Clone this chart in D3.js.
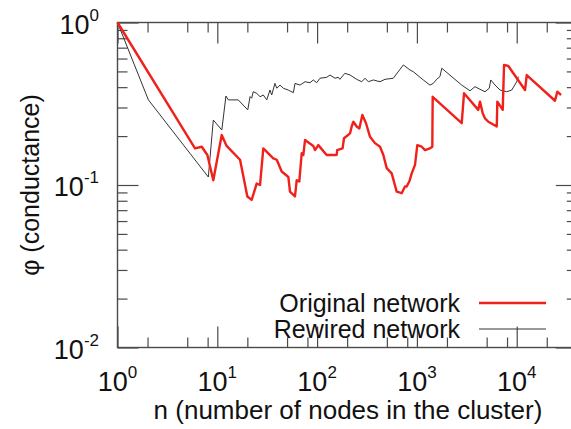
<!DOCTYPE html>
<html>
<head>
<meta charset="utf-8">
<script src="https://cdn.jsdelivr.net/npm/d3@7"></script>
<style>
  html, body { margin: 0; padding: 0; background: #fff; }
  svg { display: block; font-family: "Liberation Sans", Arial, sans-serif; }
</style>
</head>
<body>
<svg id="chart" width="571" height="429"></svg>
<script>
// Cluster size n versus conductance phi, original vs rewired network
const originalN = [1, 5.98, 6.98, 7.95, 9.12, 11.07, 12.4, 16.9, 20, 22.1, 24.8, 26.8, 28.9,
  36.4, 39.4, 44.2, 51.5, 53.5, 60, 62.5, 66.3, 70.1, 72.8, 75.7, 91.6, 95.3, 102.8, 124.7,
  157, 159, 180, 186, 214, 222, 231, 249, 265, 284, 309, 339, 380, 427, 461, 498, 559, 627,
  704, 759, 790, 839, 887, 957, 1009, 1117, 1206, 1352, 1427, 1439, 2812, 2966, 4121, 4285,
  4563, 4811, 5196, 6310, 6397, 7244, 7464, 8240, 12110, 12600, 24200, 25500, 27800];
const originalPhi = [1, 0.168, 0.172, 0.153, 0.107, 0.203, 0.174, 0.143, 0.085, 0.081, 0.102, 0.1, 0.168,
  0.146, 0.143, 0.121, 0.112, 0.091, 0.085, 0.107, 0.105, 0.157, 0.153, 0.189, 0.174, 0.164, 0.176, 0.153,
  0.153, 0.164, 0.168, 0.194, 0.208, 0.229, 0.245, 0.229, 0.223, 0.27, 0.24, 0.198, 0.181, 0.172, 0.153, 0.127, 0.118, 0.091,
  0.089, 0.098, 0.098, 0.105, 0.118, 0.133, 0.176, 0.172, 0.164, 0.168, 0.172, 0.349, 0.24, 0.367, 0.29, 0.326,
  0.276, 0.257, 0.245, 0.229, 0.326, 0.29, 0.548, 0.54, 0.384, 0.475, 0.33, 0.375, 0.358];

const rewiredN = [1, 2.04, 8.13, 9.12, 11.1, 12.2, 12.9, 16.2, 20.2, 21.3, 22.1, 22.9, 24.8, 26.8, 28.9,
  31.3, 33.7, 35.1, 37.8, 39.4, 42.5, 45.8, 51.4, 57.8, 60.1, 67.4, 75.7, 84.9, 91.6, 99, 107, 125,
  134.6, 151, 163, 169, 190, 214, 249, 280, 302, 326, 366, 427, 479, 580, 731, 853, 920, 1159, 1352,
  1459, 1578, 1702, 1775, 2812, 3404, 3820, 4285, 4811, 5310, 5495, 6067, 6808, 7943, 8913, 10000, 10380];
const rewiredPhi = [1, 0.334, 0.112, 0.251, 0.218, 0.353, 0.334, 0.334, 0.29, 0.35, 0.342, 0.375, 0.367, 0.349, 0.358,
  0.334, 0.384, 0.358, 0.422, 0.394, 0.412, 0.394, 0.384, 0.37, 0.422, 0.412, 0.432, 0.426, 0.443, 0.426, 0.454, 0.46,
  0.475, 0.454, 0.46, 0.447, 0.487, 0.475, 0.447, 0.432, 0.454, 0.432, 0.443, 0.432, 0.447, 0.454, 0.548, 0.51, 0.498, 0.443, 0.412,
  0.422, 0.447, 0.465, 0.523, 0.412, 0.38, 0.403, 0.388, 0.375, 0.394, 0.443, 0.412, 0.384, 0.375, 0.384, 0.432, 0.464];

const xMajorTicks = [1, 10, 100, 1000, 10000];
const xTickExponents = ["0", "1", "2", "3", "4"];
const xMinorMultipliers = [2, 5, 8];
const yMajorTicks = [1, 0.1, 0.01];
const yTickExponents = ["0", "-1", "-2"];
const yMinorMultipliers = [2, 3, 4, 5, 6, 7, 8, 9];

const seriesNames = ["Original network", "Rewired network"];
const xTitle = "n (number of nodes in the cluster)";
const yTitle = "\u03C6 (conductance)";

const frame = { left: 117.5, right: 576.8, top: 22.5, bottom: 347.5 };

const svg = d3.select("#chart");
const x = d3.scaleLog().domain([1, 40000]).range([frame.left, frame.right]);
const y = d3.scaleLog().domain([0.01, 1]).range([frame.bottom, frame.top]);

const xMinor = [];
xMajorTicks.forEach(d => xMinorMultipliers.forEach(m => { if (d * m <= 40000) xMinor.push(d * m); }));
const yMinor = [];
[0.01, 0.1].forEach(d => yMinorMultipliers.forEach(m => yMinor.push(d * m)));

const axisColor = "#4a4a4a";
const majorLen = 21, minorLen = 10;

function tickAxis(axisFn, scale, values, len, transform) {
  svg.append("g")
    .attr("transform", transform)
    .call(axisFn(scale).tickValues(values).tickSize(len).tickFormat(""))
    .call(g => g.select(".domain").remove())
    .call(g => g.selectAll("line").attr("stroke", axisColor).attr("stroke-width", 1.2));
}

// ticks pointing inward on all four sides
tickAxis(d3.axisTop, x, xMajorTicks, majorLen, `translate(0,${frame.bottom})`);
tickAxis(d3.axisTop, x, xMinor, minorLen, `translate(0,${frame.bottom})`);
tickAxis(d3.axisBottom, x, xMajorTicks, majorLen, `translate(0,${frame.top})`);
tickAxis(d3.axisBottom, x, xMinor, minorLen, `translate(0,${frame.top})`);
tickAxis(d3.axisRight, y, yMajorTicks, majorLen, `translate(${frame.left},0)`);
tickAxis(d3.axisRight, y, yMinor, minorLen, `translate(${frame.left},0)`);
tickAxis(d3.axisLeft, y, yMajorTicks, majorLen, `translate(${frame.right},0)`);
tickAxis(d3.axisLeft, y, yMinor, minorLen, `translate(${frame.right},0)`);

svg.append("rect")
  .attr("x", frame.left).attr("y", frame.top)
  .attr("width", frame.right - frame.left).attr("height", frame.bottom - frame.top)
  .attr("fill", "none").attr("stroke", axisColor).attr("stroke-width", 1.4);

// tick labels as powers of ten
const labelSize = 27, supSize = 17;
xMajorTicks.forEach((v, i) => {
  const t = svg.append("text")
    .attr("x", x(v)).attr("y", 391)
    .attr("text-anchor", "middle")
    .attr("font-size", labelSize).attr("fill", "#111");
  t.append("tspan").text("10");
  t.append("tspan").attr("font-size", supSize).attr("dy", -13).text(xTickExponents[i]);
});
yMajorTicks.forEach((v, i) => {
  const t = svg.append("text")
    .attr("x", 99).attr("y", y(v) + 11)
    .attr("text-anchor", "end")
    .attr("font-size", labelSize).attr("fill", "#111");
  t.append("tspan").text("10");
  t.append("tspan").attr("font-size", supSize).attr("dy", -13).text(yTickExponents[i]);
});

svg.append("text")
  .attr("x", 348).attr("y", 419)
  .attr("text-anchor", "middle")
  .attr("font-size", 26).attr("fill", "#111")
  .text(xTitle);
svg.append("text")
  .attr("transform", `translate(39,${(frame.top + frame.bottom) / 2}) rotate(-90)`)
  .attr("text-anchor", "middle")
  .attr("font-size", 25).attr("fill", "#111")
  .text(yTitle);

const line = d3.line().x(d => x(d[0])).y(d => y(d[1]));
const rewired = rewiredN.map((n, i) => [n, rewiredPhi[i]]);
const original = originalN.map((n, i) => [n, originalPhi[i]]);

svg.append("path").datum(rewired)
  .attr("d", line).attr("fill", "none")
  .attr("stroke", "#333").attr("stroke-width", 1);
svg.append("path").datum(original)
  .attr("d", line).attr("fill", "none")
  .attr("stroke", "#f0201a").attr("stroke-width", 2.4).attr("stroke-linejoin", "round");

// legend
const legend = [
  { name: seriesNames[0], color: "#f0201a", width: 2.4, y: 303 },
  { name: seriesNames[1], color: "#333", width: 1, y: 329 }
];
legend.forEach(l => {
  svg.append("text")
    .attr("x", 460).attr("y", l.y + 9)
    .attr("text-anchor", "end")
    .attr("font-size", 25).attr("fill", "#111")
    .text(l.name);
  svg.append("line")
    .attr("x1", 479).attr("x2", 546).attr("y1", l.y).attr("y2", l.y)
    .attr("stroke", l.color).attr("stroke-width", l.width);
});
</script>
</body>
</html>
